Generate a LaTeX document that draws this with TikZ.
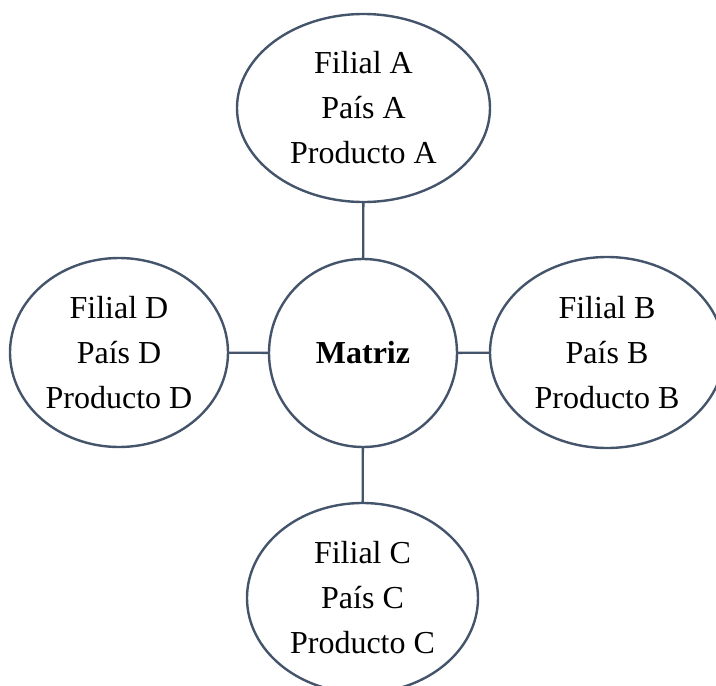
\documentclass[tikz,border=0pt]{standalone}
\usepackage{fontspec}
\setmainfont{Liberation Serif}
\usetikzlibrary{shapes.geometric}
\definecolor{outline}{HTML}{44546A}
\tikzset{
  bubble/.style={ellipse, draw=outline, line width=2.4pt, fill=white,
    inner sep=0pt, align=center, text=black,
    font=\fontsize{32}{45}\selectfont},
  link/.style={draw=outline, line width=2.4pt}
}
\begin{document}
\begin{tikzpicture}[x=1pt, y=-1pt]
  \useasboundingbox (0,0) rectangle (716,686);
  % central company
  \node[bubble, circle, minimum size=188pt] (mat) at (363,353) {\textbf{Matriz}};
  % subsidiaries
  \node[bubble, minimum width=253pt, minimum height=188pt] (fa) at (363.5,108)
    {Filial A\\País A\\Producto A};
  \node[bubble, minimum width=234pt, minimum height=191pt] (fb) at (607,352.5)
    {Filial B\\País B\\Producto B};
  \node[bubble, minimum width=231pt, minimum height=190pt] (fc) at (362.5,598)
    {Filial C\\País C\\Producto C};
  \node[bubble, minimum width=218pt, minimum height=189pt] (fd) at (119,352.5)
    {Filial D\\País D\\Producto D};
  % links to the parent
  \draw[link] (fa) -- (mat);
  \draw[link] (mat) -- (fb);
  \draw[link] (mat) -- (fc);
  \draw[link] (fd) -- (mat);
\end{tikzpicture}
\end{document}
